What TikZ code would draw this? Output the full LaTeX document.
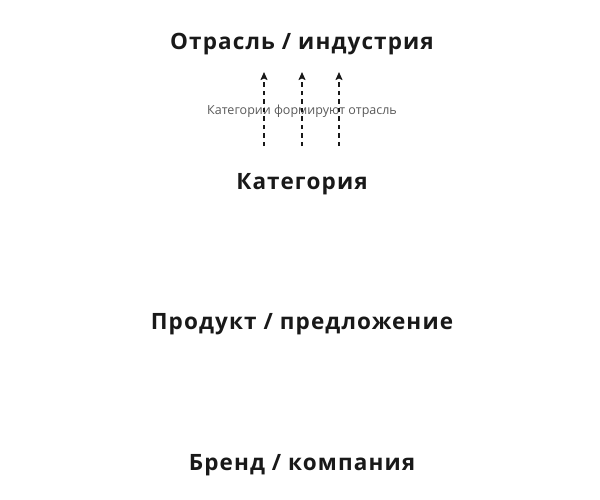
\documentclass[tikz,border=0pt]{standalone}
\usepackage{fontspec}
\setmainfont{Open Sans}
\usetikzlibrary{arrows.meta}
\begin{document}
\begin{tikzpicture}[x=1pt,y=-1pt,
  title/.style={font=\fontsize{22.5}{24}\selectfont\bfseries\addfontfeatures{LetterSpace=5}, text=black!90, inner sep=0pt, anchor=base},
  note/.style={font=\fontsize{12.5}{14}\selectfont, text=black!65, inner sep=0pt, anchor=base},
  flow/.style={draw=black!90, line width=1.4pt, dash pattern=on 4.5pt off 4pt, -{Stealth[length=8pt,width=7pt,inset=1.5pt]}}]
\useasboundingbox (0,0) rectangle (600,499);
\node[title] (ind) at (302,49) {Отрасль / индустрия};
\node[title] (cat) at (302,189) {Категория};
\node[title] (prod) at (302,329) {Продукт / предложение};
\node[title] (brand) at (302,470) {Бренд / компания};
\node[note] (lbl) at (302,114) {Категории формируют отрасль};
\coordinate (a1s) at (264,146); \coordinate (a1e) at (264,72);
\coordinate (a2s) at (302,146); \coordinate (a2e) at (302,72);
\coordinate (a3s) at (339,146); \coordinate (a3e) at (339,72);
\draw[flow] (a1s) -- (a1e);
\draw[flow] (a2s) -- (a2e);
\draw[flow] (a3s) -- (a3e);
\end{tikzpicture}
\end{document}
